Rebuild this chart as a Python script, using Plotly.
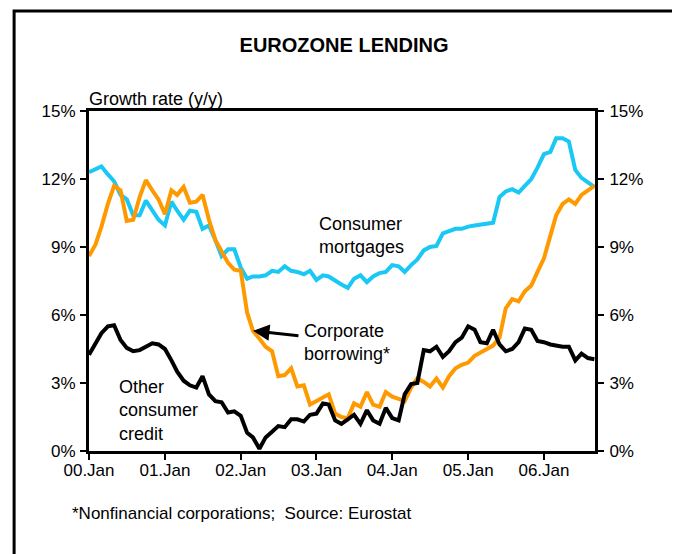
import pandas as pd
import plotly.graph_objects as go

# Monthly growth rates (y/y, %), Jan 2000 - Sep 2006
dates = pd.date_range("2000-01-01", "2006-09-01", freq="MS")

mortgages = [
    12.3, 12.45, 12.55, 12.2, 11.9, 11.3, 11.1, 10.4, 10.4, 11.05, 10.6, 10.2,
    9.95, 11.0, 10.6, 10.2, 10.6, 10.55, 9.8, 9.95, 9.3, 8.6, 8.9, 8.9,
    8.1, 7.6, 7.7, 7.7, 7.75, 7.95, 7.9, 8.15, 7.95, 7.9, 7.8, 7.95,
    7.55, 7.75, 7.7, 7.5, 7.35, 7.2, 7.6, 7.75, 7.45, 7.7, 7.85, 7.9,
    8.2, 8.15, 7.9, 8.2, 8.45, 8.85, 9.0, 9.05, 9.6, 9.7, 9.8, 9.8,
    9.9, 9.95, 10.0, 10.03, 10.07, 11.2, 11.45, 11.55, 11.4, 11.7, 12.0, 12.5,
    13.1, 13.2, 13.8, 13.8, 13.65, 12.4, 12.05, 11.85, 11.65,
]

corporate = [
    8.6, 9.1, 9.9, 10.9, 11.7, 11.5, 10.15, 10.2, 11.2, 11.95, 11.5, 11.1,
    10.45, 11.5, 11.3, 11.65, 10.95, 11.0, 11.3, 10.2, 9.3, 8.85, 8.3, 8.0,
    7.95, 6.1, 5.3, 4.95, 4.6, 4.4, 3.3, 3.35, 3.65, 2.85, 2.9, 2.05,
    2.2, 2.4, 2.5, 1.65, 1.5, 1.45, 2.1, 1.95, 2.6, 2.05, 1.95, 2.6,
    2.4, 2.3, 2.2, 2.8, 3.2, 3.05, 2.85, 3.2, 2.8, 3.3, 3.65, 3.8,
    3.9, 4.2, 4.35, 4.5, 4.65, 5.0, 6.3, 6.7, 6.6, 7.05, 7.3, 7.9,
    8.5, 9.5, 10.4, 10.9, 11.1, 10.9, 11.3, 11.5, 11.7,
]

other_credit = [
    4.25, 4.7, 5.2, 5.5, 5.55, 4.9, 4.55, 4.4, 4.45, 4.6, 4.75, 4.7,
    4.5, 4.0, 3.5, 3.1, 2.9, 2.8, 3.3, 2.5, 2.2, 2.15, 1.7, 1.75,
    1.55, 0.8, 0.6, 0.1, 0.6, 0.85, 1.1, 1.05, 1.4, 1.4, 1.3, 1.6,
    1.65, 2.1, 2.05, 1.35, 1.2, 1.4, 1.6, 1.2, 1.8, 1.35, 1.2, 1.9,
    1.45, 1.35, 2.5, 2.95, 3.0, 4.45, 4.4, 4.6, 4.15, 4.4, 4.8, 5.0,
    5.5, 5.35, 4.8, 4.75, 5.35, 4.7, 4.4, 4.5, 4.8, 5.4, 5.35, 4.85,
    4.8, 4.7, 4.65, 4.6, 4.6, 4.0, 4.3, 4.1, 4.05,
]

x_tickvals = ["2000-01-01", "2001-01-01", "2002-01-01", "2003-01-01",
              "2004-01-01", "2005-01-01", "2006-01-01"]
x_ticktext = ["00.Jan", "01.Jan", "02.Jan", "03.Jan", "04.Jan", "05.Jan", "06.Jan"]
y_tickvals = [0, 3, 6, 9, 12, 15]
y_ticktext = ["0%", "3%", "6%", "9%", "12%", "15%"]

CYAN = "#19c8f5"
ORANGE = "#ff9900"
FONT = "Liberation Sans, Arial, sans-serif"

fig = go.Figure()
fig.add_trace(go.Scatter(x=dates, y=mortgages, mode="lines",
                         line=dict(color=CYAN, width=4), showlegend=False))
fig.add_trace(go.Scatter(x=dates, y=corporate, mode="lines",
                         line=dict(color=ORANGE, width=4), showlegend=False))
fig.add_trace(go.Scatter(x=dates, y=other_credit, mode="lines",
                         line=dict(color="black", width=4), showlegend=False))
# invisible trace so the right-hand axis is drawn
fig.add_trace(go.Scatter(x=dates[:1], y=y_tickvals[:1], yaxis="y2", mode="markers",
                         marker=dict(opacity=0), showlegend=False, hoverinfo="skip"))

axis_common = dict(
    showgrid=False, zeroline=False, showline=True, linecolor="black",
    ticks="outside", tickcolor="black", tickfont=dict(size=17, color="black"),
)

# page body has an 8px margin, so the figure is 8px smaller than the window
fig.update_layout(
    width=672, height=546,
    margin=dict(l=81, r=85, t=103, b=103),
    paper_bgcolor="white", plot_bgcolor="white",
    font=dict(family=FONT, color="black"),
    title=dict(text="<b>EUROZONE LENDING</b>", x=0.5, xanchor="center",
               y=1 - 37 / 546, yanchor="middle", font=dict(size=20, color="black")),
    xaxis=dict(**axis_common, range=["2000-01-01", "2006-09-04"], linewidth=3,
               mirror=True, tickvals=x_tickvals, ticktext=x_ticktext,
               ticklen=6, tickwidth=1.5, ticklabelstandoff=-4),
    yaxis=dict(**axis_common, range=[0, 15], linewidth=3, tickvals=y_tickvals,
               ticktext=y_ticktext, ticklen=6, tickwidth=1.5, ticklabelstandoff=1),
    yaxis2=dict(**axis_common, range=[0, 15], overlaying="y", side="right",
                linewidth=3, tickvals=y_tickvals, ticktext=y_ticktext,
                ticklen=6, tickwidth=1.5, ticklabelstandoff=2),
    shapes=[dict(type="rect", xref="paper", yref="paper",
                 x0=-0.148, x1=1.160, y0=-0.31, y1=1.294,
                 line=dict(color="black", width=3))],
)

ann_font = dict(size=18, color="black")
fig.add_annotation(text="Growth rate (y/y)", xref="paper", yref="paper", x=-0.004, y=1.035,
                   xanchor="left", yanchor="middle", showarrow=False, font=ann_font)
fig.add_annotation(text="Consumer<br>mortgages", x="2003-01-03", y=9.5, xanchor="left",
                   yanchor="middle", align="left", showarrow=False, font=ann_font)
fig.add_annotation(text="Corporate<br>borrowing*", x="2002-10-25", y=4.8, xanchor="left",
                   yanchor="middle", align="left", showarrow=False, font=ann_font)
fig.add_annotation(text="Other<br>consumer<br>credit", x="2000-05-15", y=1.8, xanchor="left",
                   yanchor="middle", align="left", showarrow=False, font=ann_font)
fig.add_annotation(text="", x=dates[26], y=corporate[26], ax=47, ay=5, showarrow=True,
                   arrowhead=2, arrowsize=1.1, arrowwidth=3, arrowcolor="black")
fig.add_annotation(text="*Nonfinancial corporations;  Source: Eurostat", xref="paper",
                   yref="paper", x=-0.038, y=-0.185, xanchor="left", yanchor="middle",
                   showarrow=False, font=dict(size=17, color="black"))

fig.write_html("out.html")
